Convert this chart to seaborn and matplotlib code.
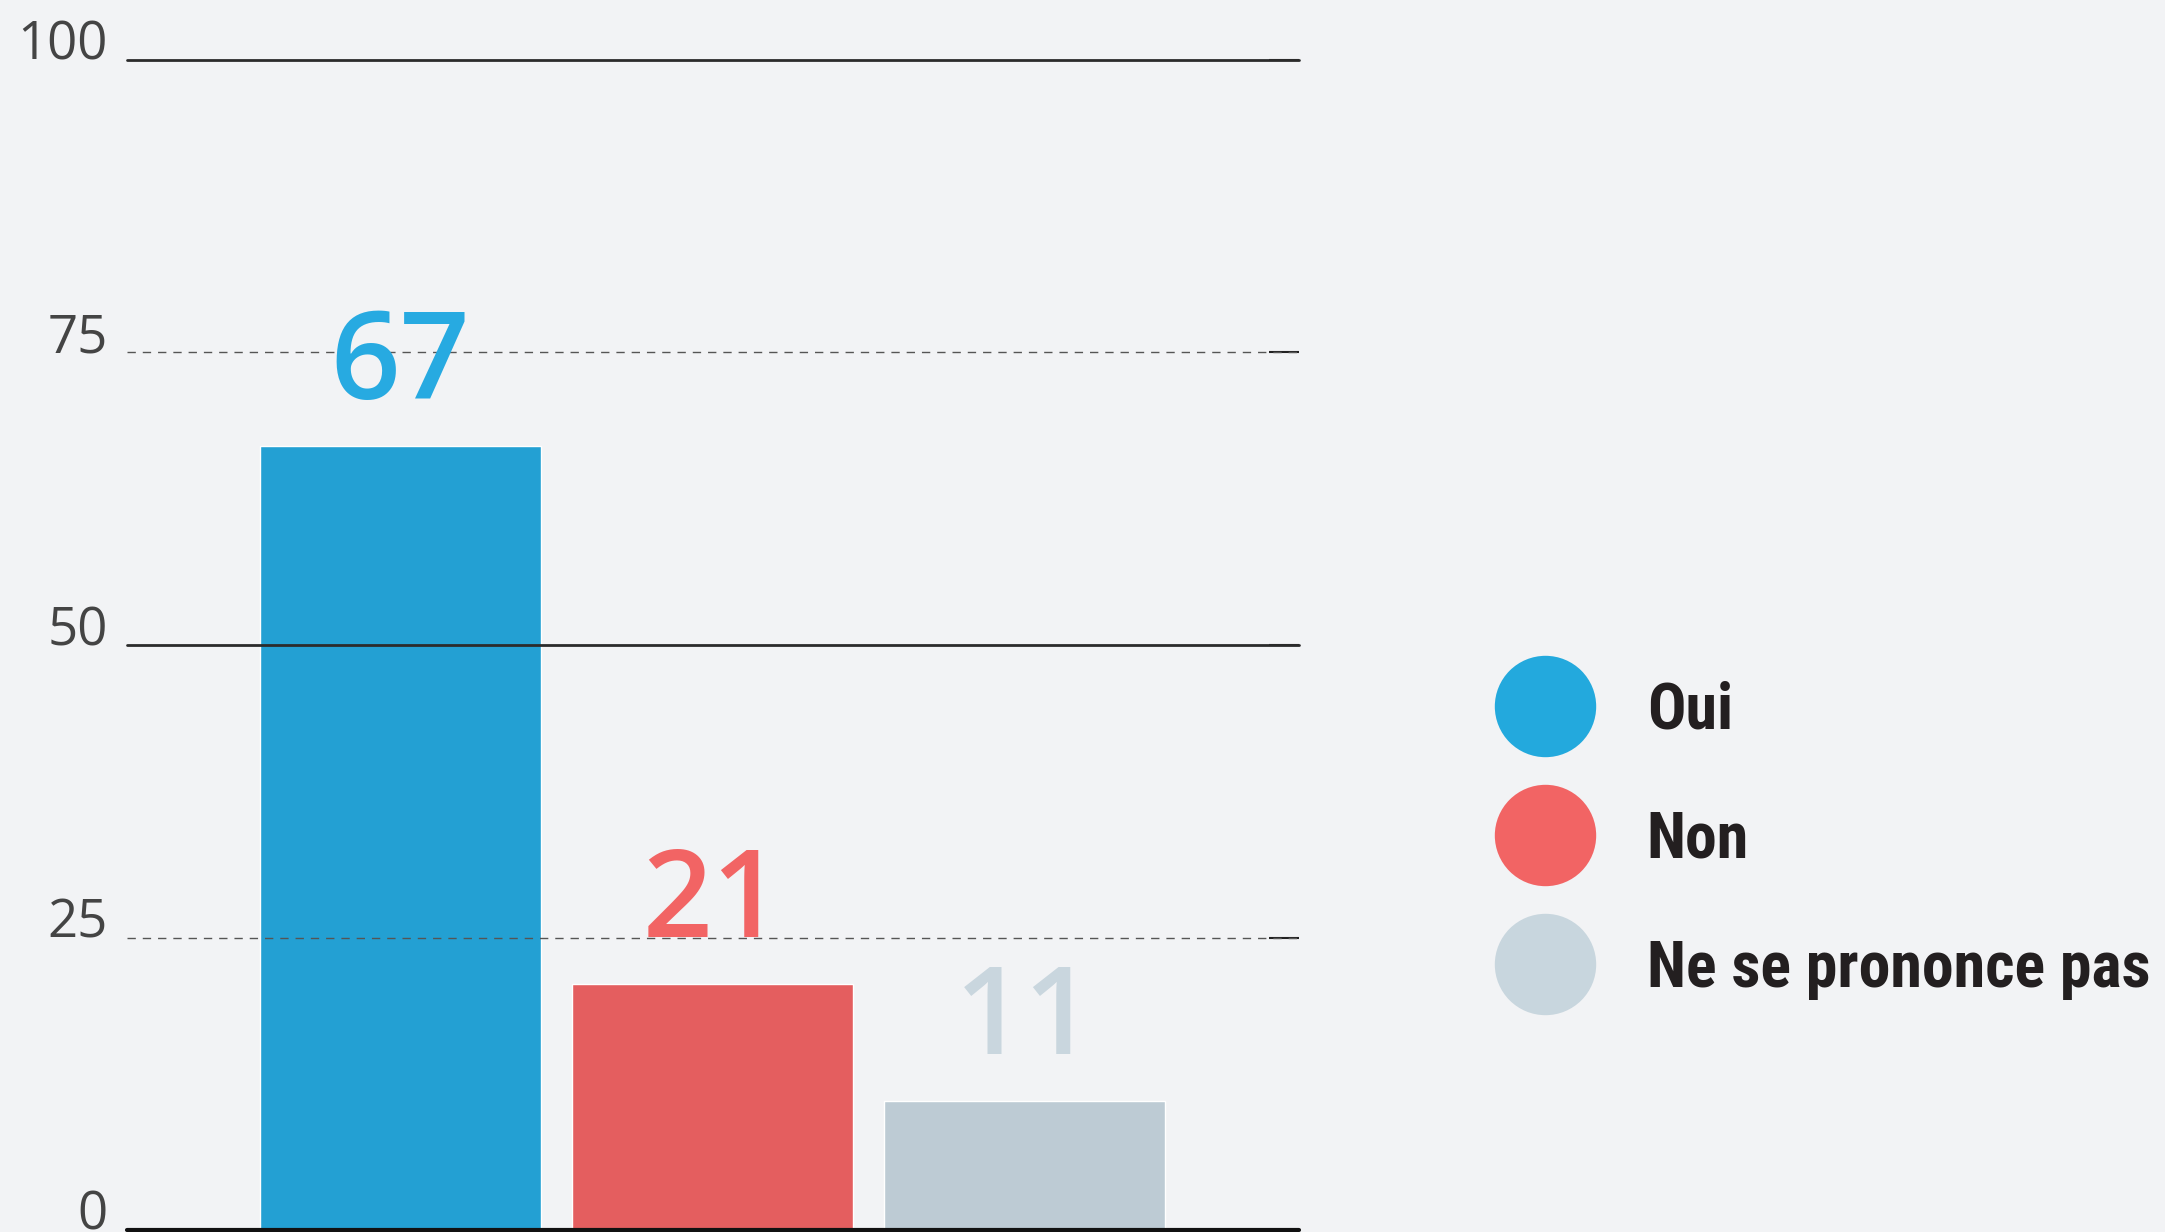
import matplotlib
matplotlib.use("Agg")
import matplotlib.pyplot as plt
import seaborn as sns
import pandas as pd
from matplotlib.lines import Line2D
from matplotlib import font_manager as fm

categories = ["Oui", "Non", "Ne se prononce pas"]
values = [67, 21, 11]
bar_colors = ["#23a0d3", "#e45e5f", "#bdcbd4"]
label_colors = ["#27aae1", "#f26464", "#c9d6de"]
legend_colors = ["#23a9dd", "#f26464", "#c8d6de"]
y_ticks = [0, 25, 50, 75, 100]

BG = "#f2f3f5"

sns.set_theme(style="white")
plt.rcParams["font.family"] = ["Open Sans", "DejaVu Sans"]

# condensed bold face for the legend, first one that exists
installed = {f.name for f in fm.fontManager.ttflist}
legend_font = "DejaVu Sans"
for cand in ["Liberation Sans Narrow", "Roboto Condensed", "DejaVu Sans Condensed",
             "Open Sans Condensed", "Noto Sans Condensed", "Roboto", "Lato"]:
    if cand in installed:
        legend_font = cand
        break

fig = plt.figure(figsize=(21.65, 12.32), dpi=100, facecolor=BG)
ax = fig.add_axes([127 / 2165, 2 / 1232, (1299 - 127) / 2165, (1230 - 60) / 1232])
ax.set_facecolor(BG)

df = pd.DataFrame({"cat": categories, "val": values})
sns.barplot(data=df, x="cat", y="val", hue="cat", palette=bar_colors,
            width=0.9, saturation=1, legend=False, ax=ax, zorder=1)

ax.set_xlim(-0.875, 2.88)
ax.set_ylim(0, 100)
ax.set_xlabel("")
ax.set_ylabel("")
ax.set_xticks([])
for s in ax.spines.values():
    s.set_visible(False)

# horizontal reference lines
for t in y_ticks:
    if t == 0:
        ax.axhline(t, color="#111111", lw=3, zorder=5, clip_on=False)
    elif t in (50, 100):
        ax.axhline(t, color="#2b2b2b", lw=2, zorder=5, clip_on=False)
    else:
        ax.axhline(t, color="#555555", lw=1, ls=(0, (6, 5)), zorder=5)

ax.set_yticks(y_ticks)
ax.set_yticklabels([str(t) for t in y_ticks])
ax.tick_params(axis="y", left=False, right=True, direction="in", length=21.6,
               width=1.5, color="#222222", labelsize=38, labelcolor="#444444", pad=14)
for lbl in ax.get_yticklabels():
    lbl.set_verticalalignment("baseline")

for i, v in enumerate(values):
    ax.annotate(str(v), xy=(i, v), xytext=(0, 34), textcoords="offset points",
                ha="center", va="baseline", fontsize=88, fontweight="semibold",
                color=label_colors[i], zorder=6)

# fit legend font so the longest label is ~505 px wide
renderer = fig.canvas.get_renderer()
probe = fig.text(0, 0, categories[2], family=legend_font, weight="bold", fontsize=46)
w = probe.get_window_extent(renderer).width
probe.remove()
leg_size = min(46, 46 * 505 / w)

handles = [Line2D([], [], marker="o", ls="", markersize=73, markerfacecolor=c,
                  markeredgewidth=0) for c in legend_colors]
leg = fig.legend(handles, categories, loc="center left",
                 bbox_to_anchor=(1494 / 2165, 1 - 840 / 1232),
                 frameon=False, handlelength=73 / leg_size, handletextpad=37 / leg_size,
                 labelspacing=(129 * 0.72 - 1.2 * leg_size) / leg_size + 0.25,
                 borderpad=0, borderaxespad=0,
                 prop={"family": legend_font, "weight": "bold", "size": leg_size})
for t in leg.get_texts():
    t.set_color("#231f20")

fig.savefig("out.png", dpi=100, facecolor=BG)
